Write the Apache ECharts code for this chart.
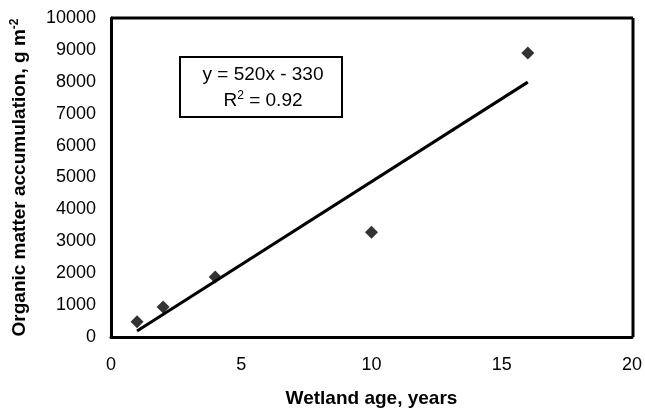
<!DOCTYPE html>
<html><head><meta charset="utf-8">
<script src="https://cdn.jsdelivr.net/npm/echarts@6/dist/echarts.min.js"></script>
<style>html,body{margin:0;padding:0;background:#fff}#c{width:645px;height:414px}</style>
</head><body><div id="c"></div>
<script>
const ageYears = [1, 2, 4, 10, 16];
const accumulation = [480, 940, 1880, 3280, 8900];
const trendX = [1, 16];
const trendY = [190, 7990];
const xTicks = [0, 5, 10, 15, 20];
const yTicks = [0,1000,2000,3000,4000,5000,6000,7000,8000,9000,10000];

const chart = echarts.init(document.getElementById('c'));
const F = 'Liberation Sans, Arial, sans-serif';
const L = 111, R = 633, T = 18, B = 337;
chart.setOption({
  animation: false,
  grid: {left: L, right: 645 - R, top: T, bottom: 414 - B},
  xAxis: {
    type: 'value', min: xTicks[0], max: xTicks[xTicks.length - 1], interval: 5,
    name: 'Wetland age, years', nameLocation: 'middle', nameGap: 52,
    nameTextStyle: {fontFamily: F, fontSize: 19, fontWeight: 'bold', color: '#000'},
    axisLine: {show: true, onZero: false, lineStyle: {color: '#000', width: 3}},
    axisTick: {show: false},
    splitLine: {show: false},
    axisLabel: {fontFamily: F, fontSize: 18, color: '#000', margin: 19, formatter: v => String(v)}
  },
  yAxis: {
    type: 'value', min: yTicks[0], max: yTicks[yTicks.length - 1], interval: 1000,
    name: '{n|Organic matter accumulation, g m}{s|-2}', nameLocation: 'middle', nameGap: 80, nameRotate: 90,
    nameTextStyle: {fontFamily: F, fontSize: 19, fontWeight: 'bold', color: '#000',
      rich: {n: {fontFamily: F, fontSize: 19, fontWeight: 'bold', color: '#000'},
             s: {fontFamily: F, fontSize: 12, fontWeight: 'bold', color: '#000', verticalAlign: 'top', padding: [0,0,10,0]}}},
    axisLine: {show: true, lineStyle: {color: '#000', width: 3}},
    axisTick: {show: false},
    splitLine: {show: false},
    axisLabel: {fontFamily: F, fontSize: 18, color: '#000', margin: 15, formatter: v => String(v)}
  },
  graphic: [
    {type: 'line', shape: {x1: L, y1: T, x2: R, y2: T}, style: {stroke: '#000', lineWidth: 3}},
    {type: 'line', shape: {x1: R, y1: T, x2: R, y2: B}, style: {stroke: '#000', lineWidth: 3}},
    {type: 'rect', shape: {x: 180, y: 57, width: 162, height: 60}, style: {fill: '#fff', stroke: '#000', lineWidth: 2}, z: 10},
    {type: 'text', x: 263, y: 75, z: 11, style: {text: 'y = 520x - 330', font: '19px ' + F, fill: '#000', align: 'center', verticalAlign: 'middle'}},
    {type: 'text', x: 263, y: 101, z: 11, style: {text: '{a|R}{b|2}{a| = 0.92}', align: 'center', verticalAlign: 'middle',
      rich: {a: {fontFamily: F, fontSize: 19, fill: '#000'}, b: {fontFamily: F, fontSize: 12, fill: '#000', verticalAlign: 'top', padding: [0,0,10,0]}}}}
  ],
  series: [
    {type: 'line', data: trendX.map((x, i) => [x, trendY[i]]), symbol: 'none',
     lineStyle: {color: '#000', width: 3}, z: 2},
    {type: 'scatter', data: ageYears.map((x, i) => [x, accumulation[i]]), symbol: 'diamond', symbolSize: 13,
     itemStyle: {color: '#000'}, z: 3}
  ]
});
</script></body></html>
